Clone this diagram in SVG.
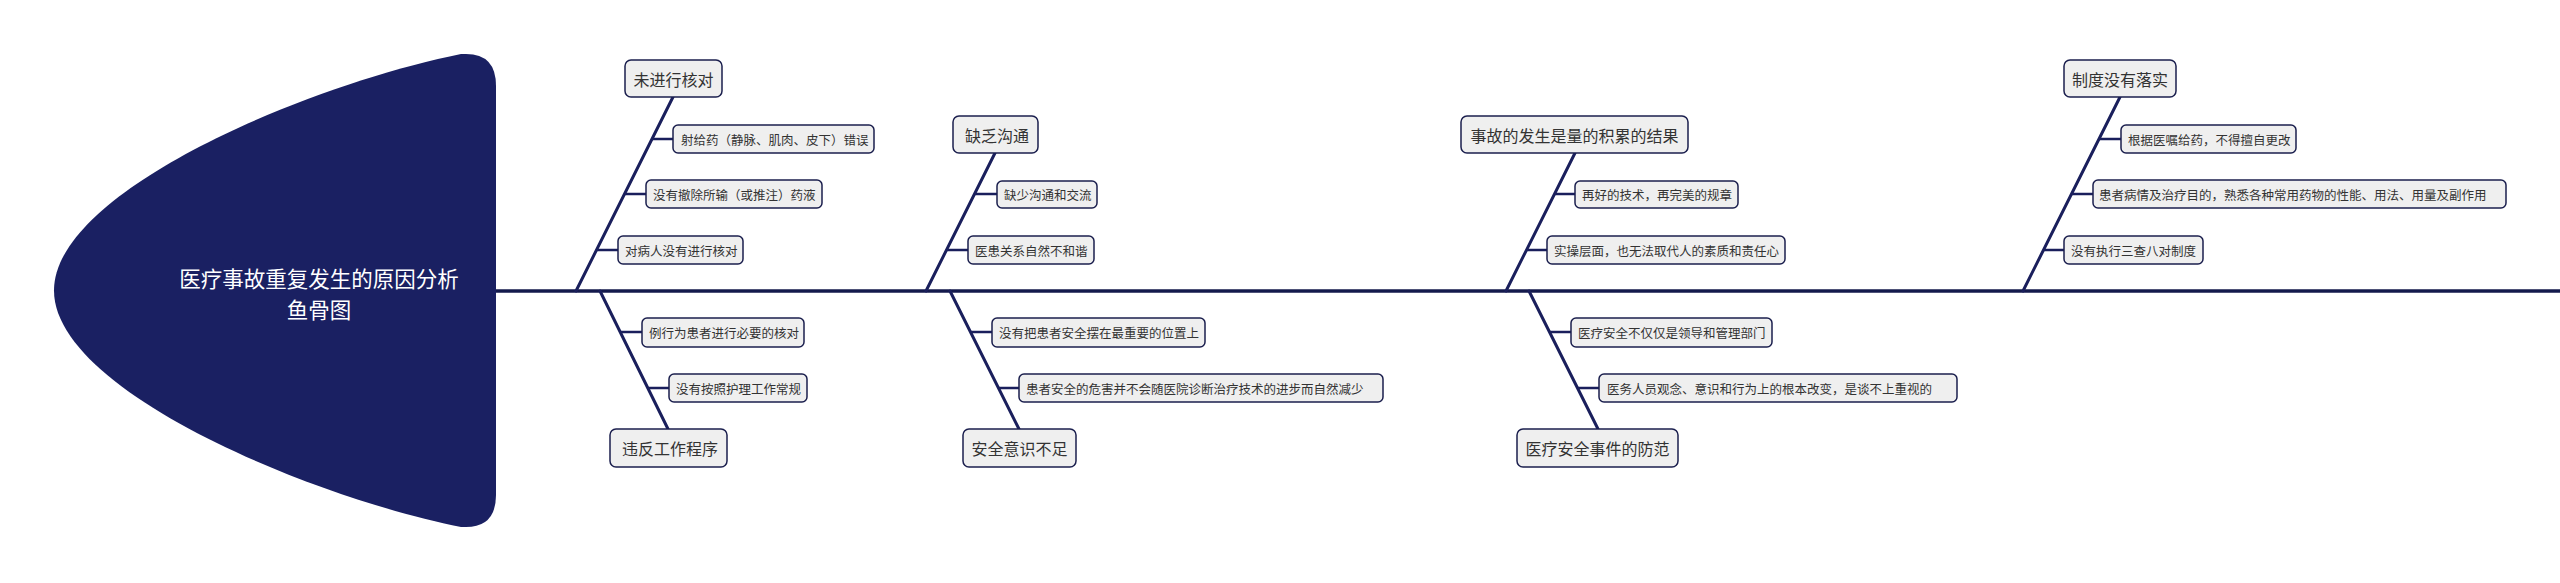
<svg xmlns="http://www.w3.org/2000/svg" width="2560" height="583" viewBox="0 0 2560 583">
<style>
.bg{fill:#ffffff}
.head{fill:#1a2062}
.title{fill:#ffffff;font-family:"Noto Sans CJK SC","Noto Sans",sans-serif;font-size:21.5px;text-anchor:middle;dominant-baseline:central}
.spine{stroke:#141a4c;stroke-width:3.5;fill:none}
.bone{stroke:#1a1f5c;stroke-width:3;fill:none;stroke-linecap:round}
.conn{stroke:#1a1f5c;stroke-width:2.5;fill:none}
.box{fill:#efefef;stroke:#1b1f4e;stroke-width:1.5}
.mt{fill:#333333;font-family:"Noto Sans CJK SC","Noto Sans",sans-serif;font-size:16px;text-anchor:middle;dominant-baseline:central}
.st{fill:#333333;font-family:"Noto Sans CJK SC","Noto Sans",sans-serif;font-size:12.5px;text-anchor:start;dominant-baseline:central}
</style>
<rect class="bg" x="0" y="0" width="2560" height="583"/>
<g id="head">
<path class="head" d="M461,54 C311,84 54,190 54,290.5 C54,391 311,497 461,527 L466,527 Q496,527 496,495 L496,86 Q496,54 466,54 Z"/>
<text class="title" x="319" y="277">医疗事故重复发生的原因分析</text>
<text class="title" x="319" y="308">鱼骨图</text>
</g>
<g id="connectors">
<line class="spine" x1="496" y1="291" x2="2560" y2="291"/>
<line class="bone" x1="673" y1="97" x2="576" y2="291"/>
<line class="bone" x1="600" y1="291" x2="668" y2="429"/>
<line class="bone" x1="995" y1="153" x2="926" y2="291"/>
<line class="bone" x1="950" y1="291" x2="1019" y2="429"/>
<line class="bone" x1="1575" y1="153" x2="1506" y2="291"/>
<line class="bone" x1="1529" y1="291" x2="1598" y2="429"/>
<line class="bone" x1="2120" y1="97" x2="2023" y2="291"/>
<line class="conn" x1="652" y1="139" x2="673" y2="139"/>
<line class="conn" x1="624.5" y1="194" x2="646" y2="194"/>
<line class="conn" x1="596.5" y1="250" x2="618" y2="250"/>
<line class="conn" x1="620.5" y1="332" x2="642" y2="332"/>
<line class="conn" x1="648.5" y1="388" x2="669" y2="388"/>
<line class="conn" x1="974.5" y1="194" x2="997" y2="194"/>
<line class="conn" x1="946.5" y1="250" x2="968" y2="250"/>
<line class="conn" x1="970.5" y1="332" x2="992" y2="332"/>
<line class="conn" x1="998.5" y1="388" x2="1019" y2="388"/>
<line class="conn" x1="1554.5" y1="194" x2="1575" y2="194"/>
<line class="conn" x1="1526.5" y1="250" x2="1547" y2="250"/>
<line class="conn" x1="1549.5" y1="332" x2="1571" y2="332"/>
<line class="conn" x1="1577.5" y1="388" x2="1599" y2="388"/>
<line class="conn" x1="2099" y1="139" x2="2121" y2="139"/>
<line class="conn" x1="2071.5" y1="194" x2="2093" y2="194"/>
<line class="conn" x1="2043.5" y1="250" x2="2064" y2="250"/>
</g>
<g id="n1"><rect class="box" x="625" y="60" width="97" height="37" rx="6"/><text class="mt" x="673.5" y="78.5">未进行核对</text></g>
<g id="n1a"><rect class="box" x="673" y="125" width="201" height="28" rx="5"/><text class="st" x="681" y="139" textLength="187.5" lengthAdjust="spacing">射给药（静脉、肌肉、皮下）错误</text></g>
<g id="n1b"><rect class="box" x="646" y="180" width="176" height="28" rx="5"/><text class="st" x="653" y="194" textLength="162.5" lengthAdjust="spacing">没有撤除所输（或推注）药液</text></g>
<g id="n1c"><rect class="box" x="618" y="236" width="125" height="28" rx="5"/><text class="st" x="625" y="250" textLength="112.5" lengthAdjust="spacing">对病人没有进行核对</text></g>
<g id="n2"><rect class="box" x="610" y="429" width="117" height="38" rx="6"/><text class="mt" x="670" y="448">违反工作程序</text></g>
<g id="n2a"><rect class="box" x="642" y="318" width="162" height="29" rx="5"/><text class="st" x="649" y="332.5" textLength="150" lengthAdjust="spacing">例行为患者进行必要的核对</text></g>
<g id="n2b"><rect class="box" x="669" y="374" width="138" height="28" rx="5"/><text class="st" x="676" y="388" textLength="125" lengthAdjust="spacing">没有按照护理工作常规</text></g>
<g id="n3"><rect class="box" x="953" y="116" width="85" height="37" rx="6"/><text class="mt" x="997" y="134.5">缺乏沟通</text></g>
<g id="n3a"><rect class="box" x="997" y="181" width="100" height="27" rx="5"/><text class="st" x="1004" y="194.5" textLength="87.5" lengthAdjust="spacing">缺少沟通和交流</text></g>
<g id="n3b"><rect class="box" x="968" y="236" width="126" height="28" rx="5"/><text class="st" x="975" y="250" textLength="112.5" lengthAdjust="spacing">医患关系自然不和谐</text></g>
<g id="n4"><rect class="box" x="963" y="429" width="113" height="38" rx="6"/><text class="mt" x="1019.5" y="448">安全意识不足</text></g>
<g id="n4a"><rect class="box" x="992" y="318" width="213" height="29" rx="5"/><text class="st" x="999" y="332.5" textLength="200" lengthAdjust="spacing">没有把患者安全摆在最重要的位置上</text></g>
<g id="n4b"><rect class="box" x="1019" y="374" width="364" height="28" rx="5"/><text class="st" x="1026" y="388" textLength="337.5" lengthAdjust="spacing">患者安全的危害并不会随医院诊断治疗技术的进步而自然减少</text></g>
<g id="n5"><rect class="box" x="1461" y="116" width="227" height="37" rx="6"/><text class="mt" x="1574.5" y="134.5">事故的发生是量的积累的结果</text></g>
<g id="n5a"><rect class="box" x="1575" y="181" width="163" height="27" rx="5"/><text class="st" x="1582" y="194.5" textLength="150" lengthAdjust="spacing">再好的技术，再完美的规章</text></g>
<g id="n5b"><rect class="box" x="1547" y="236" width="238" height="28" rx="5"/><text class="st" x="1554" y="250" textLength="225" lengthAdjust="spacing">实操层面，也无法取代人的素质和责任心</text></g>
<g id="n6"><rect class="box" x="1517" y="429" width="161" height="38" rx="6"/><text class="mt" x="1597.5" y="448">医疗安全事件的防范</text></g>
<g id="n6a"><rect class="box" x="1571" y="318" width="201" height="29" rx="5"/><text class="st" x="1578" y="332.5" textLength="187.5" lengthAdjust="spacing">医疗安全不仅仅是领导和管理部门</text></g>
<g id="n6b"><rect class="box" x="1599" y="374" width="358" height="28" rx="5"/><text class="st" x="1607" y="388" textLength="325" lengthAdjust="spacing">医务人员观念、意识和行为上的根本改变，是谈不上重视的</text></g>
<g id="n7"><rect class="box" x="2064" y="60" width="112" height="37" rx="6"/><text class="mt" x="2120" y="78.5">制度没有落实</text></g>
<g id="n7a"><rect class="box" x="2121" y="125" width="175" height="28" rx="5"/><text class="st" x="2128" y="139" textLength="162.5" lengthAdjust="spacing">根据医嘱给药，不得擅自更改</text></g>
<g id="n7b"><rect class="box" x="2093" y="180" width="413" height="28" rx="5"/><text class="st" x="2099" y="194" textLength="387.5" lengthAdjust="spacing">患者病情及治疗目的，熟悉各种常用药物的性能、用法、用量及副作用</text></g>
<g id="n7c"><rect class="box" x="2064" y="236" width="139" height="28" rx="5"/><text class="st" x="2071" y="250" textLength="125" lengthAdjust="spacing">没有执行三查八对制度</text></g>
</svg>
